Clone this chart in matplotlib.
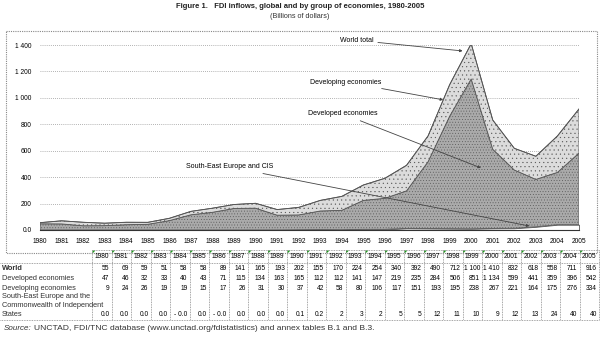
import math
import numpy as np
import matplotlib
matplotlib.use("Agg")
import matplotlib.pyplot as plt
from matplotlib.patches import Rectangle, Polygon

plt.rcParams['font.family'] = ['Liberation Sans', 'DejaVu Sans']
plt.rcParams['hatch.linewidth'] = 0.3

# Data (billions of dollars) --------------------------------------
years = list(range(1980, 2006))
world = [55, 69, 59, 51, 58, 58, 89, 141, 165, 193, 202, 155, 170, 224, 254,
         340, 392, 490, 712, 1100, 1410, 832, 618, 558, 711, 916]
developed = [47, 46, 32, 33, 40, 43, 71, 115, 134, 163, 165, 112, 112, 141, 147,
             219, 235, 284, 506, 851, 1134, 599, 441, 359, 396, 542]
developing = [9, 24, 26, 19, 19, 15, 17, 26, 31, 30, 37, 42, 58, 80, 106,
              117, 151, 193, 195, 238, 267, 221, 164, 175, 276, 334]
see_cis = [0.0, 0.0, 0.0, 0.0, -0.0, 0.0, -0.0, 0.0, 0.0, 0.0, 0.1, 0.2, 2, 3, 2,
           5, 5, 12, 11, 10, 9, 12, 13, 24, 40, 40]
yticks = [0, 200, 400, 600, 800, 1000, 1200, 1400]

W, H = 600, 337
fig = plt.figure(figsize=(6, 3.37), dpi=100)


def fmt(v):
    if abs(v) < 1:
        s = f"{abs(v):.1f}"
    else:
        s = f"{abs(v):,.0f}".replace(",", " ")
    if math.copysign(1, v) < 0:
        s = "- " + s
    return s


# background layer in pixel coords (title, border, table, source)
bg = fig.add_axes([0, 0, 1, 1])
bg.set_xlim(0, W)
bg.set_ylim(H, 0)
bg.axis('off')

bg.text(300, 7, "Figure 1.   FDI inflows, global and by group of economies, 1980-2005",
        ha='center', va='center', fontsize=5.5, fontweight='bold', color='#222222')
bg.text(300, 17, "(Billions of dollars)", ha='center', va='center', fontsize=5.2, color='#333333')
bg.add_patch(Rectangle((6, 31), 591, 222, fill=False, ec='#888888', lw=0.8, ls=(0, (1, 1))))

# table
lab_w = 92
col_w = (599 - lab_w) / len(years)
top, hdr_bot, tab_bot = 250, 263, 320
grid = dict(color='#888888', lw=0.6, ls=(0, (1, 1)))
bg.plot([0, 599], [hdr_bot, hdr_bot], **grid)
bg.plot([0, 599], [tab_bot, tab_bot], **grid)
bg.plot([lab_w, 599], [top, top], **grid)
bg.plot([lab_w, lab_w], [top, tab_bot], **grid)
for i, yr in enumerate(years):
    x0 = lab_w + i * col_w
    x1 = x0 + col_w
    bg.plot([x1, x1], [top, tab_bot], **grid)
    bg.add_patch(Polygon([[x0 + 0.5, top + 0.5], [x0 + 3.5, top + 0.5], [x0 + 0.5, top + 3.5]],
                         color='#1a9a1a', lw=0))
    bg.text(x0 + col_w / 2, 257, str(yr), ha='center', va='center', fontsize=4.8)
    bg.text(x1 - 2, 269, fmt(world[i]), ha='right', va='center', fontsize=4.8)
    bg.text(x1 - 2, 278.5, fmt(developed[i]), ha='right', va='center', fontsize=4.8)
    bg.text(x1 - 2, 288, fmt(developing[i]), ha='right', va='center', fontsize=4.8)
    bg.text(x1 - 2, 314, fmt(see_cis[i]), ha='right', va='center', fontsize=4.8)

lab = dict(va='center', fontsize=5.3, color='#333333')
bg.text(2, 269, "World", fontweight='bold', **lab)
bg.text(2, 278.5, "Developed economies", **lab)
bg.text(2, 288, "Developing economies", **lab)
bg.text(2, 297, "South-East Europe and the", **lab)
bg.text(2, 305.5, "Commonwealth of Independent", **lab)
bg.text(2, 314, "States", **lab)

bg.text(4, 329, "Source:", va='center', fontsize=5.8, style='italic', color='#333333')
bg.text(34, 329, "UNCTAD, FDI/TNC database (www.unctad.org/fdistatistics) and annex tables B.1 and B.3.",
        va='center', fontsize=6.1, color='#333333')

# chart ------------------------------------------------------------
left, right, y0, y1 = 40, 579, 230, 45
ax = fig.add_axes([left / W, (H - y0) / H, (right - left) / W, (y0 - y1) / H])
ax.patch.set_alpha(0)

polys = ax.stackplot(years, see_cis, developed, developing,
                     colors=['white', '#aaaaaa', '#dcdcdc'],
                     edgecolor='#555555', linewidth=0.6)
polys[1].set_hatch('......')
polys[2].set_hatch('....')
polys[1].set_edgecolor('#555555')
polys[2].set_edgecolor('#555555')
ax.plot(years, world, color='#555555', lw=0.6)

ax.set_xlim(1980, 2005)
ax.set_ylim(0, 1400)
ax.set_xticks(years)
ax.set_xticklabels([str(y) for y in years], fontsize=4.8)
ax.set_yticks(yticks)
ax.set_yticklabels([fmt(v) for v in yticks], fontsize=4.8)
ax.tick_params(length=0, pad=6)
ax.yaxis.grid(True, color='#999999', lw=0.6, ls=(0, (1, 1.5)))
ax.set_axisbelow(True)
for s in ['top', 'right', 'left']:
    ax.spines[s].set_visible(False)
ax.spines['bottom'].set_color('#333333')
ax.spines['bottom'].set_linewidth(0.8)

arr = dict(arrowstyle='-|>', color='#444444', lw=0.6, mutation_scale=4, shrinkA=1, shrinkB=0)
ax.annotate("World total", xy=(1999.6, 1355), xytext=(1994.7, 1435), fontsize=5,
            ha='center', va='center', arrowprops=arr, annotation_clip=False)
ax.annotate("Developing economies", xy=(1998.7, 985), xytext=(1994.2, 1120), fontsize=5,
            ha='center', va='center', arrowprops=arr)
ax.annotate("Developed economies", xy=(2000.45, 470), xytext=(1994.05, 878), fontsize=5,
            ha='center', va='center', arrowprops=arr)
ax.annotate("South-East Europe and CIS", xy=(2002.7, 30), xytext=(1988.8, 477), fontsize=5,
            ha='center', va='center', arrowprops=arr)

fig.savefig("out.png", dpi=100)
